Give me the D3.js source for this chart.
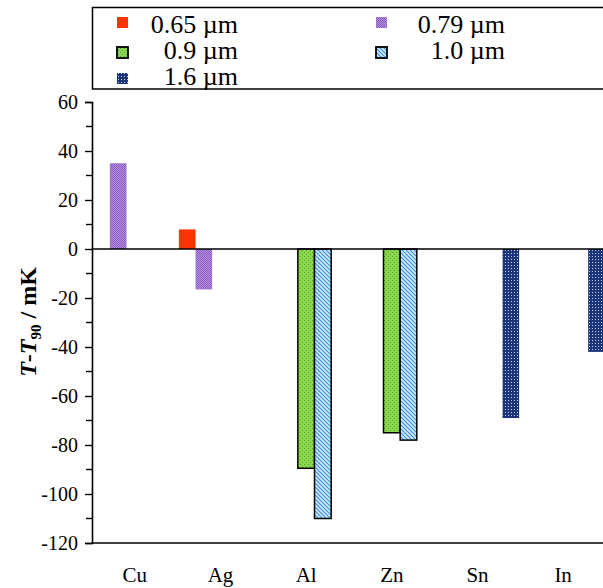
<!DOCTYPE html>
<html>
<head>
<meta charset="utf-8">
<script src="https://cdn.jsdelivr.net/npm/d3@7"></script>
<style>
  html, body { margin: 0; padding: 0; background: #fff; }
  svg { display: block; }
  svg text { font-family: 'Liberation Serif', 'Times New Roman', serif; fill: #000; }
</style>
</head>
<body>
<svg id="chart" width="603" height="588"></svg>
<script>
const metals = ['Cu', 'Ag', 'Al', 'Zn', 'Sn', 'In']
const wavelengths = ['0.65 µm', '0.79 µm', '0.9 µm', '1.0 µm', '1.6 µm']
// values in mK, null = no measurement
const v065 = [null, 8, null, null, null, null]
const v079 = [35, -16.5, null, null, null, null]
const v090 = [null, null, -89.5, -75, null, null]
const v100 = [null, null, -110, -78, null, null]
const v160 = [null, null, null, null, -69, -42]
const yTicks = [60, 40, 20, 0, -20, -40, -60, -80, -100, -120]

const seriesValues = [v065, v079, v090, v100, v160]
const fills = ['#ff3300', 'url(#pPurple)', 'url(#pGreen)', 'url(#pBlue)', 'url(#pNavy)']
const strokes = [null, null, '#000', '#000', null]

const svg = d3.select('#chart')
const margin = { left: 92, top: 102, right: -3, bottom: 45 }
const width = 603 - margin.left - margin.right
const height = 588 - margin.top - margin.bottom

buildPatterns()

const y = d3.scaleLinear().domain([-120, 60]).range([margin.top + height, margin.top])
const x0 = d3.scaleBand().domain(metals)
  .range([margin.left, margin.left + width])
  .paddingInner(0.027).paddingOuter(0.014)
const x1 = d3.scaleBand().domain(wavelengths).range([0, x0.bandwidth()])

const bars = []
seriesValues.forEach((vals, s) => {
  vals.forEach((v, c) => {
    if (v !== null) bars.push({ metal: metals[c], wl: wavelengths[s], s, v })
  })
})

svg.append('g').selectAll('rect').data(bars).enter().append('rect')
  .attr('x', d => x0(d.metal) + x1(d.wl))
  .attr('width', x1.bandwidth())
  .attr('y', d => y(Math.max(0, d.v)))
  .attr('height', d => Math.abs(y(d.v) - y(0)))
  .attr('fill', d => fills[d.s])
  .attr('stroke', d => strokes[d.s])
  .attr('stroke-width', d => strokes[d.s] ? 1.5 : 0)

// zero line
svg.append('line')
  .attr('x1', margin.left).attr('x2', 603)
  .attr('y1', y(0)).attr('y2', y(0))
  .attr('stroke', '#000').attr('stroke-width', 1.6)

// bottom line
svg.append('line')
  .attr('x1', margin.left).attr('x2', 603)
  .attr('y1', y(-120)).attr('y2', y(-120))
  .attr('stroke', '#000').attr('stroke-width', 1.6)

// y axis
const yAxis = d3.axisLeft(y).tickValues(yTicks).tickSize(7).tickPadding(7)
  .tickFormat(d => String(d))
const gy = svg.append('g').attr('transform', `translate(${margin.left},0)`).call(yAxis)
gy.attr('font-family', null).attr('font-size', null)
gy.select('.domain').attr('stroke-width', 1.6)
gy.selectAll('.tick line').attr('stroke-width', 1.4)
gy.selectAll('.tick text').attr('font-size', 20)
const minor = d3.range(-110, 60, 20)
gy.selectAll('.minor').data(minor).enter().append('line')
  .attr('x1', -6).attr('x2', 0)
  .attr('y1', d => y(d)).attr('y2', d => y(d))
  .attr('stroke', '#000').attr('stroke-width', 1.4)

// category labels
svg.append('g').selectAll('text').data(metals).enter().append('text')
  .attr('x', d => x0(d) + x0.bandwidth() / 2)
  .attr('y', 582)
  .attr('text-anchor', 'middle')
  .attr('font-size', 21)
  .text(d => d)

// y title
const title = svg.append('text')
  .attr('transform', 'translate(36,322) rotate(-90)')
  .attr('text-anchor', 'middle')
  .attr('font-size', 24)
  .attr('font-weight', 'bold')
title.append('tspan').attr('font-style', 'italic').text('T')
title.append('tspan').text('-')
title.append('tspan').attr('font-style', 'italic').text('T')
title.append('tspan').attr('font-size', 15).attr('dy', 5).text('90')
title.append('tspan').attr('dy', -5).text(' / mK')

// legend
const legend = svg.append('g')
legend.append('rect')
  .attr('x', 92.5).attr('y', 7.5).attr('width', 520).attr('height', 81.5)
  .attr('fill', 'none').attr('stroke', '#000').attr('stroke-width', 1.5)
const legendPos = [
  { mx: 117, my: 17, tx: 238, ty: 33 },
  { mx: 376, my: 17, tx: 505, ty: 33 },
  { mx: 117, my: 47, tx: 238, ty: 59 },
  { mx: 376, my: 47, tx: 505, ty: 59 },
  { mx: 117, my: 73, tx: 238, ty: 85 }
]
wavelengths.forEach((wl, s) => {
  const p = legendPos[s]
  legend.append('rect')
    .attr('x', p.mx).attr('y', p.my).attr('width', 11).attr('height', 11)
    .attr('fill', fills[s])
    .attr('stroke', strokes[s])
    .attr('stroke-width', strokes[s] ? 1.8 : 0)
  legend.append('text')
    .attr('x', p.tx).attr('y', p.ty)
    .attr('text-anchor', 'end')
    .attr('font-size', 26)
    .text(wl)
})

function buildPatterns () {
  const defs = svg.append('defs')
  const purple = defs.append('pattern').attr('id', 'pPurple')
    .attr('patternUnits', 'userSpaceOnUse').attr('width', 2).attr('height', 2)
  purple.append('rect').attr('width', 2).attr('height', 2).attr('fill', '#b690df')
  purple.append('rect').attr('width', 1).attr('height', 1).attr('fill', '#8a5cc0')
  purple.append('rect').attr('x', 1).attr('y', 1).attr('width', 1).attr('height', 1).attr('fill', '#8a5cc0')

  const green = defs.append('pattern').attr('id', 'pGreen')
    .attr('patternUnits', 'userSpaceOnUse').attr('width', 4).attr('height', 4)
  green.append('rect').attr('width', 4).attr('height', 4).attr('fill', '#8ed64c')
  green.append('rect').attr('x', 0).attr('y', 0).attr('width', 1).attr('height', 1).attr('fill', '#3aa83a')
  green.append('rect').attr('x', 2).attr('y', 2).attr('width', 1).attr('height', 1).attr('fill', '#3aa83a')

  const blue = defs.append('pattern').attr('id', 'pBlue')
    .attr('patternUnits', 'userSpaceOnUse').attr('width', 4).attr('height', 4)
  blue.append('rect').attr('width', 4).attr('height', 4).attr('fill', '#d4ecfc')
  blue.append('path').attr('d', 'M-1,-1L5,5M-1,3L1,5M3,-1L5,1')
    .attr('stroke', '#3a8ee0').attr('stroke-width', 1.2)

  const navy = defs.append('pattern').attr('id', 'pNavy')
    .attr('patternUnits', 'userSpaceOnUse').attr('width', 3).attr('height', 3)
  navy.append('rect').attr('width', 3).attr('height', 3).attr('fill', '#1c3578')
  navy.append('rect').attr('x', 1).attr('y', 1).attr('width', 1).attr('height', 1).attr('fill', '#c4d0ee')
}
</script>
</body>
</html>
